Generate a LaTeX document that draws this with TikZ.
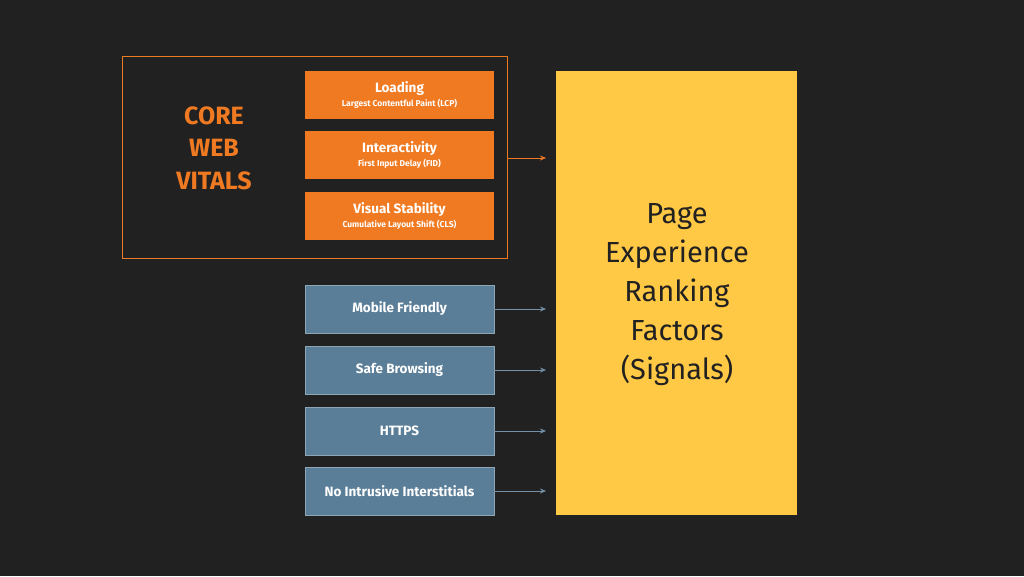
\documentclass[tikz,border=0pt]{standalone}
\usepackage{fontspec}
\setmainfont{Fira Sans}
\usetikzlibrary{arrows.meta}
\definecolor{bg}{HTML}{212121}
\definecolor{org}{HTML}{F07A22}
\definecolor{blu}{HTML}{5B7E98}
\definecolor{yel}{HTML}{FFC845}
\begin{document}
\begin{tikzpicture}[x=1pt,y=-1pt,
  ob/.style={fill=org,minimum width=189pt,minimum height=48pt,inner sep=0pt,text=white,align=center},
  bb/.style={fill=blu,draw=blu!70!white,line width=0.6pt,minimum width=189pt,minimum height=48pt,inner sep=0pt,text=white,font=\fontsize{13.5}{16}\selectfont\bfseries},
  oa/.style={draw=org,-{Stealth[length=6pt,width=5pt]},line width=0.7pt},
  ba/.style={draw=blu!85!white,-{Stealth[length=6pt,width=5pt]},line width=0.7pt}]
\fill[bg] (0,0) rectangle (1024,576);
\useasboundingbox (0,0) rectangle (1024,576);
\node[draw=org,line width=0.6pt,minimum width=385pt,minimum height=202pt,inner sep=0pt] (cwv) at (314.5,157) {};
\node[text=org,font=\fontsize{25}{32.5}\selectfont\bfseries,align=center] (cwvt) at (214,148) {CORE\\WEB\\VITALS};
\node[ob] (l) at (399.5,94.5) {{\fontsize{13.5}{16}\selectfont\bfseries Loading}\\[2pt]{\fontsize{8.5}{10}\selectfont\bfseries Largest Contentful Paint (LCP)}};
\node[ob] (i) at (399.5,155) {{\fontsize{13.5}{16}\selectfont\bfseries Interactivity}\\[2pt]{\fontsize{8.5}{10}\selectfont\bfseries First Input Delay (FID)}};
\node[ob] (v) at (399.5,216) {{\fontsize{13.5}{16}\selectfont\bfseries Visual Stability}\\[2pt]{\fontsize{8.5}{10}\selectfont\bfseries Cumulative Layout Shift (CLS)}};
\node[bb] (m) at (399.5,309) {Mobile Friendly};
\node[bb] (s) at (399.5,370) {Safe Browsing};
\node[bb] (h) at (399.5,431) {HTTPS};
\node[bb] (n) at (399.5,491) {No Intrusive Interstitials};
\node[fill=yel,minimum width=241pt,minimum height=444pt,inner sep=0pt] (p) at (676.5,293) {};
\node[text=bg,font=\fontsize{29}{39}\selectfont,align=center] (pt) at (677,295) {Page\\Experience\\Ranking\\Factors\\(Signals)};
\coordinate (a0) at (546,158);
\coordinate (a1) at (546,309);
\coordinate (a2) at (546,370);
\coordinate (a3) at (546,431);
\coordinate (a4) at (546,491);
\draw[oa] (cwv.east |- a0) -- (a0);
\draw[ba] (m.east) -- (a1);
\draw[ba] (s.east) -- (a2);
\draw[ba] (h.east) -- (a3);
\draw[ba] (n.east) -- (a4);
\end{tikzpicture}
\end{document}
